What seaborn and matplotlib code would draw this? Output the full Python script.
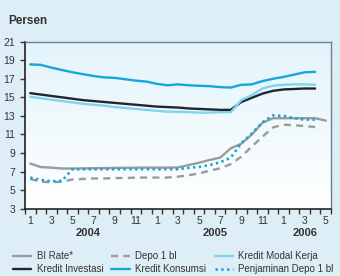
import numpy as np
import pandas as pd
import seaborn as sns
import matplotlib.pyplot as plt

# monthly data, Jan 2004 - May 2006
month_labels = [1, 2, 3, 4, 5, 6, 7, 8, 9, 10, 11, 12] * 2 + [1, 2, 3, 4, 5]
years = ["2004", "2005", "2006"]

bi_rate = [7.86, 7.48, 7.42, 7.33, 7.32, 7.34, 7.36, 7.37, 7.39, 7.41, 7.41, 7.43,
           7.42, 7.43, 7.44, 7.70, 7.95, 8.25, 8.50, 9.50, 10.00, 11.00, 12.25, 12.75,
           12.75, 12.75, 12.75, 12.75, 12.50]
depo_1bl = [6.2, 5.9, 5.85, 5.9, 6.15, 6.2, 6.25, 6.25, 6.3, 6.3, 6.35, 6.35,
            6.35, 6.35, 6.45, 6.6, 6.8, 7.1, 7.35, 7.8, 8.6, 9.7, 10.75, 11.75,
            12.05, 12.0, 11.9, 11.8]
penjaminan = [6.35, 6.1, 5.95, 6.0, 7.25, 7.25, 7.25, 7.25, 7.25, 7.25, 7.25, 7.25,
              7.25, 7.25, 7.25, 7.4, 7.5, 7.7, 8.0, 8.5, 10.05, 11.1, 12.3, 13.05,
              13.0, 12.75, 12.6, 12.6]
kredit_konsumsi = [18.55, 18.5, 18.2, 17.95, 17.7, 17.5, 17.3, 17.15, 17.1, 16.95, 16.8, 16.7,
                   16.45, 16.3, 16.4, 16.3, 16.25, 16.2, 16.1, 16.05, 16.35, 16.4, 16.75, 17.0,
                   17.2, 17.45, 17.7, 17.75]
kredit_investasi = [15.45, 15.3, 15.15, 15.0, 14.85, 14.7, 14.6, 14.5, 14.4, 14.3, 14.2, 14.1,
                    14.0, 13.95, 13.9, 13.8, 13.75, 13.7, 13.65, 13.65, 14.5, 14.95, 15.4, 15.7,
                    15.85, 15.9, 15.95, 15.95]
kredit_modal_kerja = [15.05, 14.9, 14.75, 14.6, 14.45, 14.3, 14.2, 14.1, 13.95, 13.85, 13.75, 13.65,
                      13.55, 13.45, 13.45, 13.4, 13.35, 13.35, 13.4, 13.4, 14.7, 15.25, 15.95, 16.25,
                      16.35, 16.4, 16.4, 16.35]

sns.set_style("ticks")
plt.rcParams['font.family'] = ['Liberation Sans', 'DejaVu Sans']

fig = plt.figure(figsize=(3.4, 2.76), dpi=100, facecolor="#ddeef6")
ax = fig.add_axes([0.0735, 0.244, 0.90, 0.605])
ax.set_facecolor("#eef8fc")

# light gradient in the plot area
grad = np.linspace(0, 1, 100).reshape(-1, 1)
ax.imshow(grad, extent=[-0.5, 28.5, 3, 21], aspect="auto", origin="lower",
          cmap=sns.blend_palette(["#ffffff", "#e3f4fb"], as_cmap=True), zorder=0)

x_all = np.arange(len(bi_rate))
x_28 = np.arange(len(depo_1bl))

sns.lineplot(x=x_all, y=bi_rate, ax=ax, color="#9b9b9b", lw=1.7, label="BI Rate*")
sns.lineplot(x=x_28, y=kredit_investasi, ax=ax, color="#1f2630", lw=1.7, label="Kredit Investasi")
sns.lineplot(x=x_28, y=depo_1bl, ax=ax, color="#9b9b9b", lw=1.7, label="Depo 1 bl")
ax.lines[-1].set_dashes([3, 2.2])
sns.lineplot(x=x_28, y=kredit_konsumsi, ax=ax, color="#17a6db", lw=1.7, label="Kredit Konsumsi")
sns.lineplot(x=x_28, y=kredit_modal_kerja, ax=ax, color="#80d4f0", lw=1.7, label="Kredit Modal Kerja")
sns.lineplot(x=x_28, y=penjaminan, ax=ax, color="#1ba2d9", lw=1.9, label="Penjaminan Depo 1 bl")
ax.lines[-1].set_dashes([0.9, 1.3])

ax.set_xlim(-0.5, 28.5)
ax.set_ylim(3, 21)
ax.set_yticks(range(3, 22, 2))
ax.set_xticks(x_all[::2])
ax.set_xticklabels([str(m) for m in month_labels[::2]])
ax.set_xticks(np.arange(-0.5, 28.6, 1), minor=True)
ax.tick_params(axis="x", which="major", length=0, labelsize=7.5, colors="#333333", pad=5)
ax.tick_params(axis="x", which="minor", length=3.5, width=1, colors="#333333", direction="out")
ax.tick_params(axis="y", length=3.5, width=1, labelsize=7.5, colors="#333333")
for s in ["left", "bottom"]:
    ax.spines[s].set_color("#222222")
    ax.spines[s].set_linewidth(1.2)
for s in ["top", "right"]:
    ax.spines[s].set_visible(True)
    ax.spines[s].set_color("#6d7f89")
    ax.spines[s].set_linewidth(1.0)
ax.set_xlabel("")
ax.set_ylabel("")

# year labels
for pos, yr in zip([5.5, 17.5, 26.0], years):
    ax.text(pos, -0.115, yr, transform=ax.get_xaxis_transform(), ha="center", va="top",
            fontsize=8, fontweight="bold", color="#333333")

fig.text(0.024, 0.924, "Persen", fontsize=8.5, fontweight="bold", color="#333333", va="center")

handles, labels = ax.get_legend_handles_labels()
ax.legend(handles, labels, ncol=3, loc="upper left", bbox_to_anchor=(-0.056, -0.225),
          frameon=False, fontsize=7, handlelength=1.9, handletextpad=0.55,
          columnspacing=0.85, labelspacing=0.3, borderpad=0, labelcolor="#333333")

fig.savefig("out.png", dpi=100, facecolor=fig.get_facecolor())
